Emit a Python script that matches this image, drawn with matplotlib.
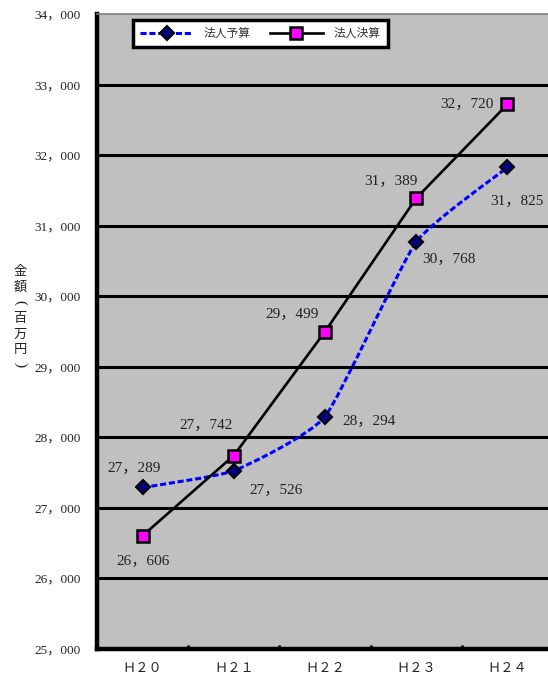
import numpy as np
import matplotlib.pyplot as plt
from matplotlib.path import Path
from matplotlib.patches import PathPatch
from matplotlib.lines import Line2D

plt.rcParams['font.family'] = ['Liberation Serif', 'Noto Sans CJK JP']

years = ["Ｈ２０", "Ｈ２１", "Ｈ２２", "Ｈ２３", "Ｈ２４"]
budget = [27289, 27526, 28294, 30768, 31825]      # 法人予算
settled = [26606, 27742, 29499, 31389, 32720]     # 法人決算

# label offsets in pixels (dx, dy)
budget_offsets = [(-9, 19), (42, -20), (44, -5), (33, -17), (9, -34)]
settled_offsets = [(0, -26), (-28, 30), (-33, 17), (-25, 17), (-41, 0)]

fig = plt.figure(figsize=(5.48, 6.8), dpi=100)
ax = fig.add_axes([97 / 548, 31 / 680, 456 / 548, 635 / 680])
ax.set_facecolor('#C0C0C0')
ax.set_xlim(-0.5, 4.5)
ax.set_ylim(25000, 34000)

for v in range(26000, 34000, 1000):
    ax.axhline(v, color='black', lw=2.2, zorder=1)

ax.spines['right'].set_visible(False)
ax.spines['top'].set_color('#808080')
ax.spines['top'].set_linewidth(1.2)
ax.spines['left'].set_linewidth(3.2)
ax.spines['bottom'].set_linewidth(3.2)

x = np.arange(len(years))

# lightly smoothed dashed curve for the budget series
tension = 0.08
pts = np.column_stack([x, budget]).astype(float)
verts = [pts[0]]
codes = [Path.MOVETO]
n = len(pts)
for i in range(n - 1):
    p0 = pts[max(i - 1, 0)]
    p1 = pts[i]
    p2 = pts[i + 1]
    p3 = pts[min(i + 2, n - 1)]
    c1 = p1 + (p2 - p0) * tension
    c2 = p2 - (p3 - p1) * tension
    verts += [c1, c2, p2]
    codes += [Path.CURVE4] * 3
curve = PathPatch(Path(verts, codes), fill=False, edgecolor='#0000FF',
                  lw=2.2, linestyle=(0, (2.0, 0.9)), zorder=3)
ax.add_patch(curve)
ax.plot(x, budget, linestyle='none', marker='D', ms=7, mfc='#000080',
        mec='black', mew=1.5, zorder=4)

ax.plot(x, settled, color='black', lw=1.9, marker='s', ms=9,
        mfc='#FF00FF', mec='black', mew=1.8, zorder=5)

px = 72 / 100
for xi, v, (dx, dy) in zip(x, budget, budget_offsets):
    ax.annotate(f"{v // 1000}，{v % 1000:03d}", (xi, v),
                xytext=(dx * px, dy * px), textcoords='offset points',
                ha='center', va='center', fontsize=11, color='#222222')
for xi, v, (dx, dy) in zip(x, settled, settled_offsets):
    ax.annotate(f"{v // 1000}，{v % 1000:03d}", (xi, v),
                xytext=(dx * px, dy * px), textcoords='offset points',
                ha='center', va='center', fontsize=11, color='#222222')

ax.set_xticks(x)
ax.set_xticklabels(years, fontsize=9.5, family=['Noto Sans CJK JP'],
                   color='#222222')
ax.set_xticks(np.arange(-0.5, 4.6, 1), minor=True)
ax.tick_params(axis='x', which='major', length=0, pad=9)
ax.tick_params(axis='x', which='minor', direction='in', length=3, width=2)

yt = np.arange(25000, 34001, 1000)
ax.set_yticks(yt)
ax.set_yticklabels([f"{v // 1000}，{v % 1000:03d}" for v in yt],
                   fontsize=9.5, color='#222222')
ax.tick_params(axis='y', length=0, pad=12)

# vertical axis title, one character per row, brackets turned sideways
ylabel_chars = ["金", "額", "(", "百", "万", "円", ")"]
for i, ch in enumerate(ylabel_chars):
    if ch in "()":
        fig.text(20 / 548, 1 - (272 + i * 15.5) / 680, ch, ha='center',
                 va='center', fontsize=11, rotation=-90,
                 family=['Liberation Serif'], color='#222222')
    else:
        fig.text(20 / 548, 1 - (272 + i * 15.5) / 680, ch, ha='center',
                 va='center', fontsize=9.5, family=['Noto Sans CJK JP'],
                 color='#222222')

h1 = Line2D([], [], color='#0000FF', lw=2.2, linestyle=(0, (2.0, 0.9)),
            marker='D', ms=7, mfc='#000080', mec='black', mew=1.5)
h2 = Line2D([], [], color='black', lw=1.9, marker='s', ms=9,
            mfc='#FF00FF', mec='black', mew=1.8)
leg = ax.legend([h1, h2], ["法人予算", "法人決算"], loc='upper left',
                bbox_to_anchor=(133 / 548, 1 - 20 / 680),
                bbox_transform=fig.transFigure, ncol=2, frameon=True,
                fancybox=False, borderaxespad=0, handlelength=4.5,
                columnspacing=1.6, handletextpad=0.9, borderpad=0.6,
                prop={'family': 'Noto Sans CJK JP', 'size': 8.5})
leg.get_frame().set_edgecolor('black')
leg.get_frame().set_linewidth(2.5)
leg.get_frame().set_facecolor('white')
leg.get_frame().set_alpha(1)
for t in leg.get_texts():
    t.set_color('#333333')

fig.savefig('out.png', dpi=100)
